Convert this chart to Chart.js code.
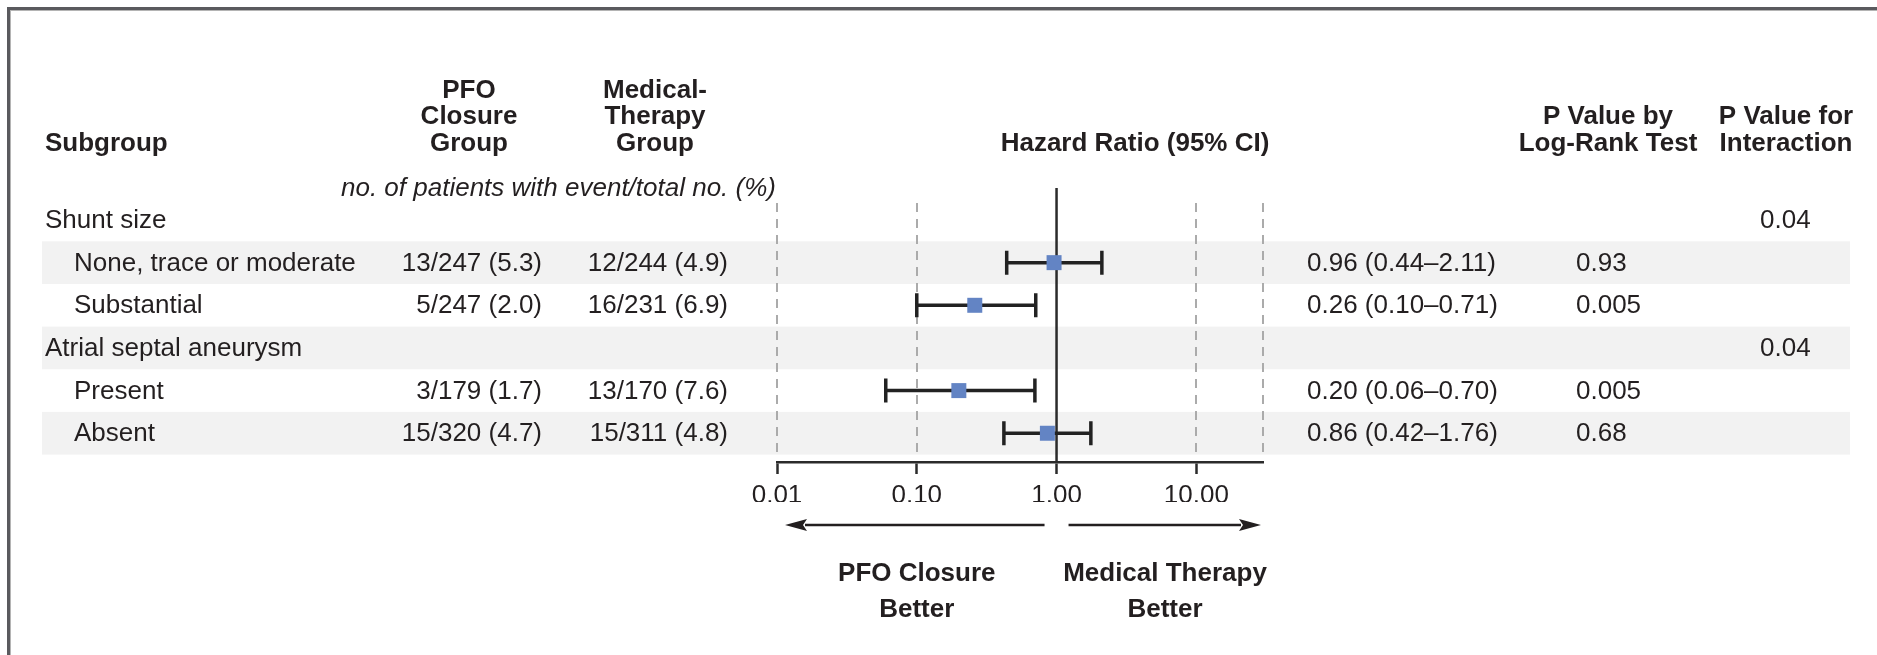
<!DOCTYPE html>
<html>
<head>
<meta charset="utf-8">
<title>Subgroup analysis</title>
<script src="https://cdn.jsdelivr.net/npm/chart.js@4.4.1/dist/chart.umd.min.js"></script>
<style>
  html, body { margin: 0; padding: 0; background: #fff; }
  #wrap { width: 1877px; height: 655px; }
</style>
</head>
<body>
<div id="wrap"><canvas id="forest" width="1877" height="655"></canvas></div>
<script>
// Rows, top to bottom
const subgroups = ['Shunt size', 'None, trace or moderate', 'Substantial', 'Atrial septal aneurysm', 'Present', 'Absent'];
const groupRows = [true, false, false, true, false, false];

// no. of patients with event / total no. (%)
const pfoEvents = [null, 13, 5, null, 3, 15];
const pfoTotals = [null, 247, 247, null, 179, 320];
const pfoPercent = [null, 5.3, 2.0, null, 1.7, 4.7];
const medEvents = [null, 12, 16, null, 13, 15];
const medTotals = [null, 244, 231, null, 170, 311];
const medPercent = [null, 4.9, 6.9, null, 7.6, 4.8];

// Hazard ratio (95% CI)
const hazardRatio = [null, 0.96, 0.26, null, 0.20, 0.86];
const ciLower = [null, 0.44, 0.10, null, 0.06, 0.42];
const ciUpper = [null, 2.11, 0.71, null, 0.70, 1.76];

const pLogRank = [null, '0.93', '0.005', null, '0.005', '0.68'];
const pInteraction = ['0.04', null, null, '0.04', null, null];

// Axis
const xTicks = [0.01, 0.1, 1, 10];
const xMin = 0.01;
const xMax = 30;
const dashedAt = [0.01, 0.1, 10, 30];

const FONT = '"Liberation Sans", Arial, sans-serif';
const INK = '#231f20';
const BAND = '#f2f2f2';
const MARKER = '#6384c4';

function drawText(ctx, str, x, y, align, weight, style) {
  ctx.save();
  ctx.font = (style || 'normal') + ' ' + (weight || 'normal') + ' 26px ' + FONT;
  ctx.fillStyle = INK;
  ctx.textAlign = align || 'left';
  ctx.textBaseline = 'middle';
  ctx.fillText(str, x, y);
  ctx.restore();
}

function drawArrow(ctx, fromX, toX, y) {
  const dir = toX > fromX ? 1 : -1;
  const head = 22;
  ctx.save();
  ctx.strokeStyle = INK;
  ctx.fillStyle = INK;
  ctx.lineWidth = 2.5;
  ctx.beginPath();
  ctx.moveTo(fromX, y);
  ctx.lineTo(toX - dir * head + dir * 2, y);
  ctx.stroke();
  ctx.beginPath();
  ctx.moveTo(toX, y);
  ctx.lineTo(toX - dir * head, y - 6);
  ctx.lineTo(toX - dir * head + dir * 4, y);
  ctx.lineTo(toX - dir * head, y + 6);
  ctx.closePath();
  ctx.fill();
  ctx.restore();
}

const forestPlugin = {
  id: 'forest',
  beforeDraw(chart) {
    const { ctx, width, height } = chart;
    const ys = chart.scales.y;
    ctx.save();
    ctx.fillStyle = '#fff';
    ctx.fillRect(0, 0, width, height);

    // frame (top and left only)
    ctx.fillStyle = '#5a5a5e';
    ctx.fillRect(7, 7, width - 7, 3);
    ctx.fillRect(7, 7, 3, height - 7);
    ctx.fillStyle = '#b4b4b4';
    ctx.fillRect(10, 10, width - 10, 1);
    ctx.fillRect(10, 10, 1, height - 10);

    // shaded rows
    ctx.fillStyle = BAND;
    subgroups.forEach((s, i) => {
      if (i % 2 === 1) {
        const top = ys.getPixelForValue(i - 0.5);
        const bot = ys.getPixelForValue(i + 0.5);
        ctx.fillRect(42, top, 1850 - 42, bot - top);
      }
    });
    ctx.restore();
  },
  beforeDatasetsDraw(chart) {
    const { ctx, chartArea } = chart;
    const xs = chart.scales.x;
    const ys = chart.scales.y;
    ctx.save();

    // dashed reference lines
    ctx.strokeStyle = '#ababab';
    ctx.lineWidth = 2;
    ctx.setLineDash([9, 7]);
    const dTop = ys.getPixelForValue(-0.4);
    const dBot = ys.getPixelForValue(subgroups.length - 0.5);
    dashedAt.forEach(v => {
      const x = Math.round(xs.getPixelForValue(v));
      ctx.beginPath();
      ctx.moveTo(x, dTop);
      ctx.lineTo(x, dBot);
      ctx.stroke();
    });
    ctx.setLineDash([]);

    // line of no effect
    const x1 = xs.getPixelForValue(1);
    ctx.strokeStyle = '#2b2b2b';
    ctx.lineWidth = 2.5;
    ctx.beginPath();
    ctx.moveTo(x1, chartArea.top);
    ctx.lineTo(x1, chartArea.bottom);
    ctx.stroke();

    // confidence intervals
    ctx.strokeStyle = '#222';
    ctx.lineWidth = 3.5;
    hazardRatio.forEach((hr, i) => {
      if (hr === null) return;
      const y = ys.getPixelForValue(i);
      const xl = xs.getPixelForValue(ciLower[i]);
      const xh = xs.getPixelForValue(ciUpper[i]);
      ctx.beginPath();
      ctx.moveTo(xl, y);
      ctx.lineTo(xh, y);
      ctx.moveTo(xl, y - 12);
      ctx.lineTo(xl, y + 12);
      ctx.moveTo(xh, y - 12);
      ctx.lineTo(xh, y + 12);
      ctx.stroke();
    });
    ctx.restore();
  },
  afterDraw(chart) {
    const { ctx } = chart;
    const xs = chart.scales.x;
    const ys = chart.scales.y;

    // column headings
    drawText(ctx, 'Subgroup', 45, 143.5, 'left', 'bold');
    ['PFO', 'Closure', 'Group'].forEach((t, k) => drawText(ctx, t, 469, 90.5 + k * 26.5, 'center', 'bold'));
    ['Medical-', 'Therapy', 'Group'].forEach((t, k) => drawText(ctx, t, 655, 90.5 + k * 26.5, 'center', 'bold'));
    drawText(ctx, 'Hazard Ratio (95% CI)', 1135, 143.5, 'center', 'bold');
    ['P Value by', 'Log-Rank Test'].forEach((t, k) => drawText(ctx, t, 1608, 117 + k * 26.5, 'center', 'bold'));
    ['P Value for', 'Interaction'].forEach((t, k) => drawText(ctx, t, 1786, 117 + k * 26.5, 'center', 'bold'));
    drawText(ctx, 'no. of patients with event/total no. (%)', 776, 189, 'right', 'normal', 'italic');

    // table rows
    subgroups.forEach((s, i) => {
      const y = ys.getPixelForValue(i) + 1;
      drawText(ctx, s, groupRows[i] ? 45 : 74, y, 'left');
      if (pfoEvents[i] !== null) {
        drawText(ctx, pfoEvents[i] + '/' + pfoTotals[i] + ' (' + pfoPercent[i].toFixed(1) + ')', 542, y, 'right');
        drawText(ctx, medEvents[i] + '/' + medTotals[i] + ' (' + medPercent[i].toFixed(1) + ')', 728, y, 'right');
      }
      if (hazardRatio[i] !== null) {
        const hrText = hazardRatio[i].toFixed(2) + ' (' + ciLower[i].toFixed(2) + '\u2013' + ciUpper[i].toFixed(2) + ')';
        drawText(ctx, hrText, 1307, y, 'left');
      }
      if (pLogRank[i]) drawText(ctx, pLogRank[i], 1576, y, 'left');
      if (pInteraction[i]) drawText(ctx, pInteraction[i], 1760, y, 'left');
    });

    // direction arrows and captions
    const x1 = xs.getPixelForValue(1);
    drawArrow(ctx, x1 - 12, xs.getPixelForValue(xMin) + 8, 525);
    drawArrow(ctx, x1 + 12, xs.getPixelForValue(xMax) - 2, 525);
    const xLeft = xs.getPixelForValue(0.1);
    drawText(ctx, 'PFO Closure', xLeft, 574, 'center', 'bold');
    drawText(ctx, 'Better', xLeft, 610, 'center', 'bold');
    drawText(ctx, 'Medical Therapy', 1165, 574, 'center', 'bold');
    drawText(ctx, 'Better', 1165, 610, 'center', 'bold');
  }
};

const points = [];
hazardRatio.forEach((hr, i) => {
  if (hr !== null) points.push({ x: hr, y: i });
});

new Chart(document.getElementById('forest'), {
  type: 'scatter',
  data: {
    datasets: [{
      data: points,
      pointStyle: 'rect',
      pointRadius: 10.6,
      pointHoverRadius: 10.6,
      backgroundColor: MARKER,
      borderWidth: 0
    }]
  },
  options: {
    responsive: false,
    animation: false,
    events: [],
    layout: { padding: { left: 777, right: 614, top: 188, bottom: 153 } },
    plugins: { legend: { display: false }, tooltip: { enabled: false } },
    scales: {
      x: {
        type: 'logarithmic',
        min: xMin,
        max: xMax,
        afterBuildTicks: (scale) => { scale.ticks = xTicks.map(v => ({ value: v })); },
        afterFit: (scale) => { scale.height = 40; },
        border: { display: true, color: '#2b2b2b', width: 2.5 },
        grid: { drawOnChartArea: false, drawTicks: true, tickLength: 12, tickWidth: 2.5, tickColor: '#2b2b2b' },
        ticks: {
          autoSkip: false,
          maxRotation: 0,
          padding: 6,
          color: INK,
          font: { family: FONT, size: 26 },
          callback: (v) => Number(v).toFixed(2)
        }
      },
      y: {
        type: 'linear',
        reverse: true,
        min: -0.75,
        max: 5.674,
        display: false
      }
    }
  },
  plugins: [forestPlugin]
});
</script>
</body>
</html>
